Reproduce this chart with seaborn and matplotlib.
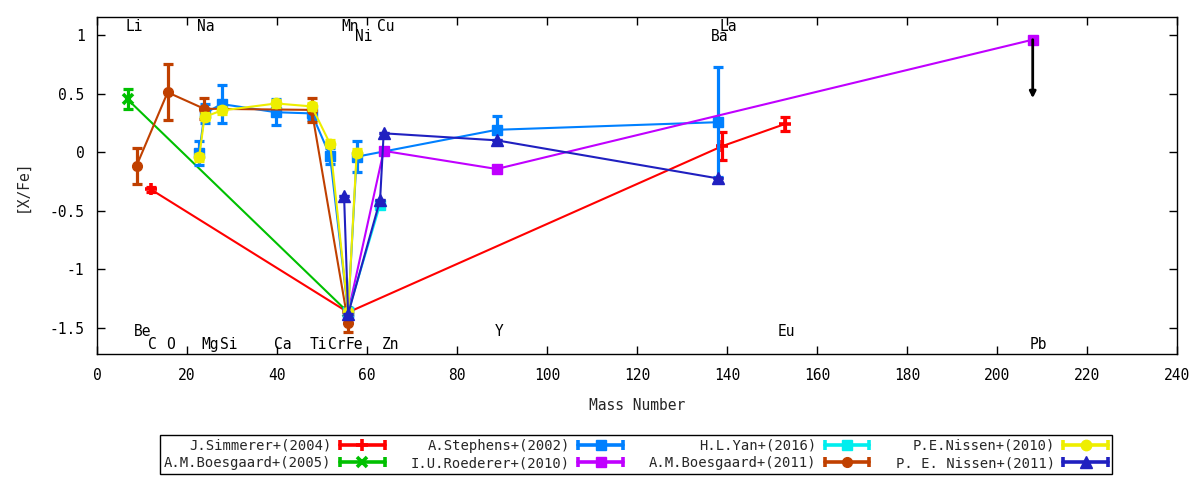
import numpy as np
import pandas as pd
import matplotlib
matplotlib.use("Agg")
import matplotlib.pyplot as plt
import seaborn as sns
from matplotlib.lines import Line2D
from matplotlib.legend_handler import HandlerLine2D, HandlerTuple
from matplotlib.ticker import FormatStrFormatter, MultipleLocator

# ---------------- data ----------------
simmerer_x = [12.0, 55.8, 138.9, 152.9]
simmerer_y = [-0.32, -1.37, 0.05, 0.24]
simmerer_err = [0.02, 0.0, 0.12, 0.06]

boes05_x = [6.8, 55.8]
boes05_y = [0.45, -1.37]
boes05_err = [0.085, 0.0]

stephens_x = [22.7, 23.9, 27.7, 39.8, 47.7, 51.8, 55.8, 57.7, 88.8, 137.9]
stephens_y = [-0.01, 0.33, 0.41, 0.34, 0.33, -0.035, -1.37, -0.04, 0.19, 0.255]
stephens_err = [0.10, 0.08, 0.16, 0.11, 0.06, 0.07, 0.0, 0.13, 0.12, 0.47]

roederer_x = [55.8, 63.7, 88.8, 207.9]
roederer_y = [-1.37, 0.01, -0.145, 0.96]
roederer_err = [0.0, 0.0, 0.0, 0.0]

yan_x = [55.8, 62.9]
yan_y = [-1.37, -0.45]
yan_err = [0.0, 0.0]

boes11_x = [8.8, 15.7, 23.8, 47.7, 55.8]
boes11_y = [-0.117, 0.51, 0.37, 0.36, -1.46]
boes11_err = [0.155, 0.24, 0.09, 0.10, 0.08]

nissen10_x = [22.7, 23.9, 27.7, 39.8, 47.7, 51.8, 55.8, 57.7]
nissen10_y = [-0.045, 0.30, 0.355, 0.415, 0.39, 0.07, -1.37, -0.005]
nissen10_err = [0.03, 0.03, 0.03, 0.03, 0.03, 0.03, 0.0, 0.03]

nissen11_x = [54.9, 55.8, 62.9, 63.7, 88.8, 137.9]
nissen11_y = [-0.375, -1.385, -0.41, 0.16, 0.10, -0.225]
nissen11_err = [0.0, 0.0, 0.0, 0.0, 0.0, 0.0]

# Pb upper limit (Roederer)
pb_limit_x = [207.9]
pb_limit_from = [0.96]
pb_limit_to = [0.46]

labels = ["J.Simmerer+(2004)", "A.M.Boesgaard+(2005)", "A.Stephens+(2002)",
          "I.U.Roederer+(2010)", "H.L.Yan+(2016)", "A.M.Boesgaard+(2011)",
          "P.E.Nissen+(2010)", "P. E. Nissen+(2011)"]
colors = ["#ff0000", "#00c000", "#0080ff", "#c000ff", "#00eeee", "#c04000",
          "#eeee00", "#2020c0"]
markers = ["+", "x", "s", "s", "s", "o", "o", "^"]
msizes = [9, 7, 7, 7, 7, 7, 7.5, 8]

series_x = [simmerer_x, boes05_x, stephens_x, roederer_x, yan_x, boes11_x, nissen10_x, nissen11_x]
series_y = [simmerer_y, boes05_y, stephens_y, roederer_y, yan_y, boes11_y, nissen10_y, nissen11_y]
series_e = [simmerer_err, boes05_err, stephens_err, roederer_err, yan_err, boes11_err, nissen10_err, nissen11_err]

elem_names = ["Li", "Na", "Mn", "Ni", "Cu", "Ba", "La",
              "Be", "C", "O", "Mg", "Si", "Ca", "Ti", "Cr", "Fe", "Zn", "Y", "Eu", "Pb"]
elem_mass = [7, 23, 55, 58, 63, 137, 139,
             9, 12, 16, 24, 28, 40, 48, 52, 56, 64, 89, 152, 208]
elem_y = [1.073, 1.073, 1.073, 0.988, 1.073, 0.988, 1.073,
          -1.53, -1.641, -1.641, -1.641, -1.641, -1.641, -1.641, -1.641, -1.641, -1.641,
          -1.53, -1.53, -1.641]

# ---------------- style ----------------
sns.set_theme(style="ticks")
plt.rcParams["font.family"] = ["DejaVu Sans Mono", "DejaVu Sans"]
plt.rcParams["axes.unicode_minus"] = False
plt.rcParams["axes.edgecolor"] = "black"
plt.rcParams["axes.linewidth"] = 1.0

fig = plt.figure(figsize=(12, 4.8), dpi=100)
ax = fig.add_axes([0.0808, 0.2625, 0.9002, 0.7021])

for i in range(len(labels)):
    df = pd.DataFrame({"mass": series_x[i], "xfe": series_y[i], "err": series_e[i]})
    c = colors[i]
    ax.errorbar(df["mass"], df["xfe"], yerr=df["err"], fmt="none", ecolor=c,
                elinewidth=2.3, capsize=3.3, capthick=2.3)
    sns.lineplot(data=df, x="mass", y="xfe", sort=False, estimator=None, ax=ax,
                 color=c, lw=1.5, marker=markers[i], ms=msizes[i], mec=c, mfc=c,
                 mew=2.6 if markers[i] in "+x" else 1.0, legend=False)

for xv, y0, y1 in zip(pb_limit_x, pb_limit_from, pb_limit_to):
    ax.annotate("", xy=(xv, y1), xytext=(xv, y0),
                arrowprops=dict(arrowstyle="-|>", color="black", lw=2.0,
                                mutation_scale=9, shrinkA=0, shrinkB=0))

for name, m, yv in zip(elem_names, elem_mass, elem_y):
    ax.text(m - 0.7, yv, name, ha="left", va="center", fontsize=10.5, color="black")

ax.set_xlim(0, 240)
ax.set_ylim(-1.726, 1.154)
ax.xaxis.set_major_locator(MultipleLocator(20))
ax.yaxis.set_major_locator(MultipleLocator(0.5))
ax.yaxis.set_major_formatter(FormatStrFormatter("%g"))
ax.tick_params(direction="in", length=6, width=1, top=True, right=True,
               labelsize=10.5, colors="black")
ax.tick_params(axis="x", pad=10)
ax.tick_params(axis="y", pad=9)
ax.set_xlabel("Mass Number", fontsize=10.5, labelpad=11)
ax.set_ylabel("[X/Fe]", fontsize=10.5, labelpad=14)
for s in ax.spines.values():
    s.set_visible(True)
    s.set_color("black")
    s.set_linewidth(1.0)

# legend: gnuplot-like error-line samples
handles = []
hmap = {}
for i in range(len(labels)):
    c = colors[i]
    capline = Line2D([], [], color=c, lw=2.6, marker="|", ms=7, mew=2.6)
    cm = Line2D([], [], ls="none", color=c, marker=markers[i], ms=msizes[i],
                mec=c, mfc=c, mew=2.6 if markers[i] in "+x" else 1.0)
    hmap[capline] = HandlerLine2D(numpoints=2, marker_pad=0.0)
    hmap[cm] = HandlerLine2D(numpoints=1)
    handles.append((capline, cm))
hmap[tuple] = HandlerTuple(ndivide=1)
leg = fig.legend(handles, labels, ncol=4, loc="center", bbox_to_anchor=(0.53, 0.0531),
                 markerfirst=False, frameon=True, fancybox=False, framealpha=1,
                 edgecolor="black", fontsize=10, handlelength=3.2, handletextpad=0.6,
                 columnspacing=1.9, labelspacing=0.25, borderpad=0.3,
                 handler_map=hmap)
leg.get_frame().set_linewidth(1.0)

fig.savefig("out.png", dpi=100)
